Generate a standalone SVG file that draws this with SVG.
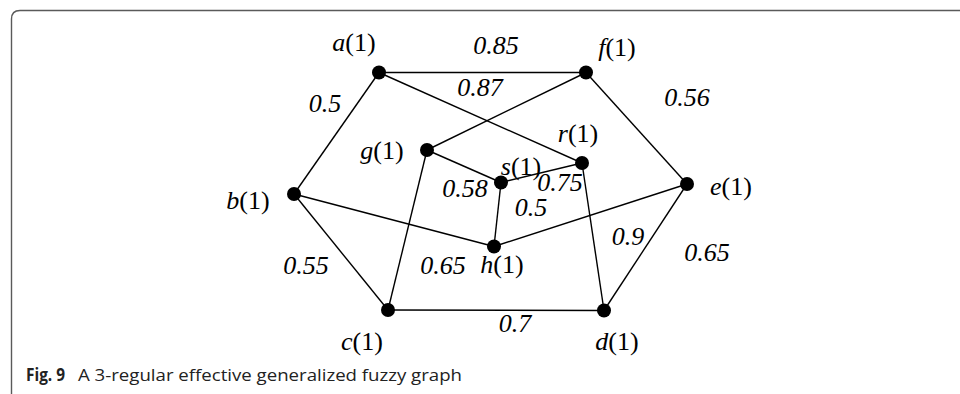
<svg xmlns="http://www.w3.org/2000/svg" width="960" height="394" viewBox="0 0 960 394">
<style>
.frame{fill:none;stroke:#5a5a5a;stroke-width:1.4}
.e{stroke:#000;stroke-width:1.4;fill:none}
.n{fill:#000}
.lbl{font-family:"Liberation Serif","DejaVu Serif",serif;font-size:26px;fill:#000;text-anchor:middle}
.it{font-style:italic}
.w{font-family:"Liberation Serif","DejaVu Serif",serif;font-size:26px;font-style:italic;fill:#000;text-anchor:middle}
.cap{font-family:"Open Sans","Noto Sans",sans-serif;font-size:17px;fill:#222}
</style>
<rect width="960" height="394" fill="#fff"/>
<path class="frame" d="M11.5 394 V19 Q11.5 10.5 20 10.5 H960"/>
<g id="edges">
<line class="e" x1="379" y1="72.5" x2="586" y2="72.5"/>
<line class="e" x1="379" y1="72.5" x2="582" y2="163"/>
<line class="e" x1="379" y1="72.5" x2="294" y2="194"/>
<line class="e" x1="586" y1="72.5" x2="427" y2="150"/>
<line class="e" x1="586" y1="72.5" x2="687" y2="184"/>
<line class="e" x1="427" y1="150" x2="501" y2="182.5"/>
<line class="e" x1="427" y1="150" x2="388" y2="310"/>
<line class="e" x1="582" y1="163" x2="501" y2="182.5"/>
<line class="e" x1="582" y1="163" x2="604" y2="310.5"/>
<line class="e" x1="501" y1="182.5" x2="494" y2="246.5"/>
<line class="e" x1="294" y1="194" x2="494" y2="246.5"/>
<line class="e" x1="294" y1="194" x2="388" y2="310"/>
<line class="e" x1="687" y1="184" x2="494" y2="246.5"/>
<line class="e" x1="687" y1="184" x2="604" y2="310.5"/>
<line class="e" x1="388" y1="310" x2="604" y2="310.5"/>
</g>
<g id="weights">
<text class="w" x="496" y="54">0.85</text>
<text class="w" x="480" y="96">0.87</text>
<text class="w" x="325" y="112">0.5</text>
<text class="w" x="687" y="106">0.56</text>
<text class="w" x="465" y="197">0.58</text>
<text class="w" x="560" y="191">0.75</text>
<text class="w" x="531" y="216">0.5</text>
<text class="w" x="306" y="274">0.55</text>
<text class="w" x="443" y="274">0.65</text>
<text class="w" x="515" y="332">0.7</text>
<text class="w" x="628" y="245">0.9</text>
<text class="w" x="707" y="261">0.65</text>
</g>
<g id="node-a"><circle class="n" cx="379" cy="72.5" r="7"/><text class="lbl" x="354" y="51"><tspan class="it">a</tspan>(1)</text></g>
<g id="node-f"><circle class="n" cx="586" cy="72.5" r="7"/><text class="lbl" x="617" y="56"><tspan class="it">f</tspan>(1)</text></g>
<g id="node-g"><circle class="n" cx="427" cy="150" r="7"/><text class="lbl" x="382" y="159"><tspan class="it">g</tspan>(1)</text></g>
<g id="node-r"><circle class="n" cx="582" cy="163" r="7"/><text class="lbl" x="578" y="142"><tspan class="it">r</tspan>(1)</text></g>
<g id="node-s"><circle class="n" cx="501" cy="182.5" r="7"/><text class="lbl" x="521" y="175"><tspan class="it">s</tspan>(1)</text></g>
<g id="node-e"><circle class="n" cx="687" cy="184" r="7"/><text class="lbl" x="731" y="195"><tspan class="it">e</tspan>(1)</text></g>
<g id="node-b"><circle class="n" cx="294" cy="194" r="7"/><text class="lbl" x="248" y="209"><tspan class="it">b</tspan>(1)</text></g>
<g id="node-h"><circle class="n" cx="494" cy="246.5" r="7"/><text class="lbl" x="502" y="273"><tspan class="it">h</tspan>(1)</text></g>
<g id="node-c"><circle class="n" cx="388" cy="310" r="7"/><text class="lbl" x="362" y="350"><tspan class="it">c</tspan>(1)</text></g>
<g id="node-d"><circle class="n" cx="604" cy="310.5" r="7"/><text class="lbl" x="617" y="350"><tspan class="it">d</tspan>(1)</text></g>
<text class="cap" x="26" y="381"><tspan font-weight="bold" textLength="39" lengthAdjust="spacingAndGlyphs">Fig. 9</tspan><tspan x="78" textLength="384" lengthAdjust="spacingAndGlyphs">A 3-regular effective generalized fuzzy graph</tspan></text>
</svg>
